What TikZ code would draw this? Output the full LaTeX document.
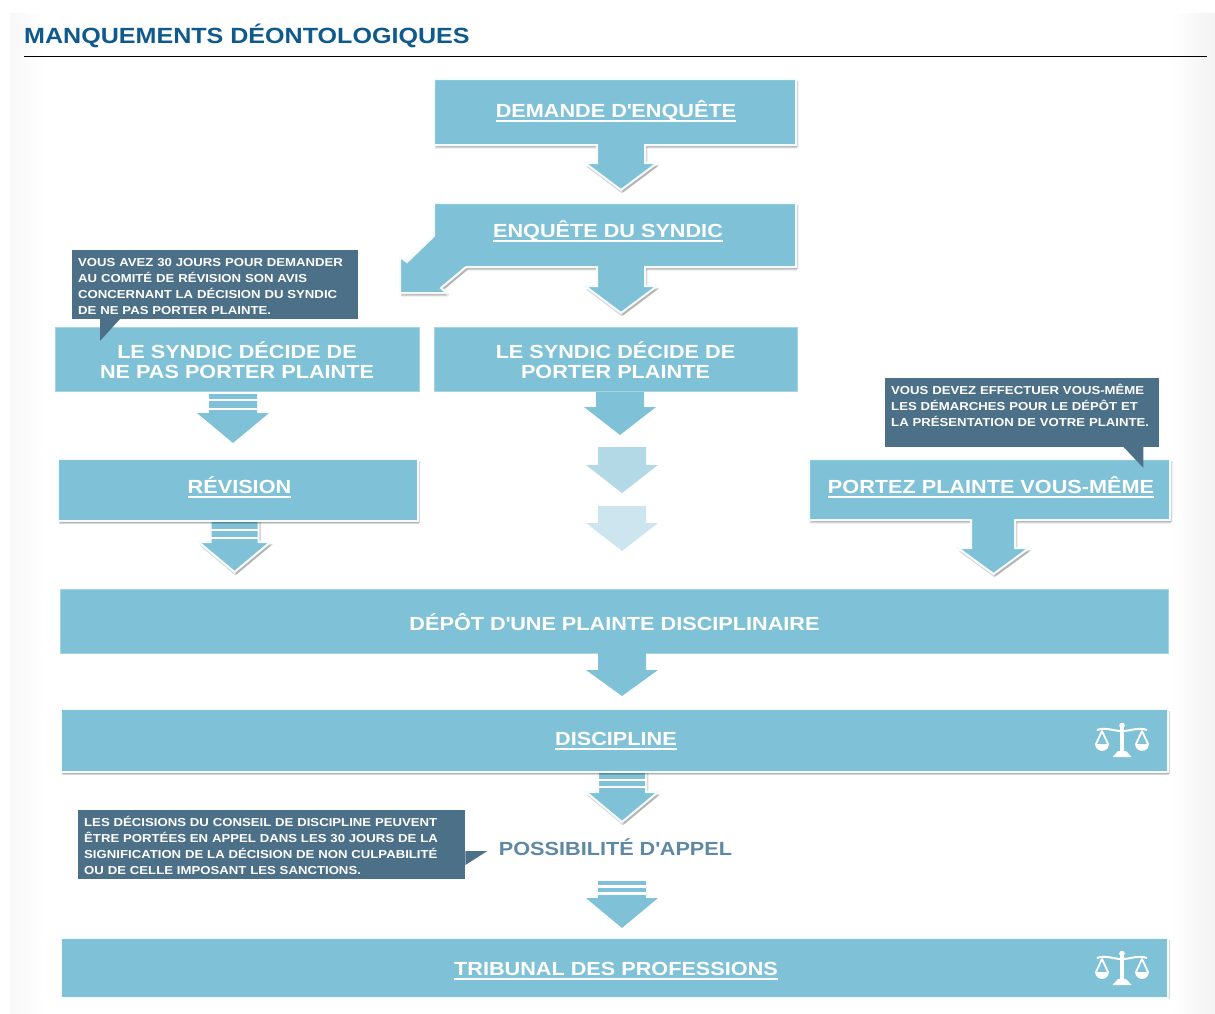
\documentclass[tikz,border=0pt]{standalone}
\usepackage{fontspec}
\setmainfont[FakeStretch=1.14]{Liberation Sans}
\usepackage{tikz}
\usetikzlibrary{shapes,shadows}

\definecolor{boxblue}{HTML}{7FC1D6}
\definecolor{fadeblue}{HTML}{B3D9E7}
\definecolor{paleblue}{HTML}{CCE5EE}
\definecolor{noteblue}{HTML}{4D7089}
\definecolor{appelblue}{HTML}{5F88A4}
\definecolor{titleblue}{HTML}{0F5A8C}

\newcommand{\linedtext}[1]{\setbox0=\hbox{#1}\rlap{\rule[-4.6bp]{\wd0}{1.8bp}}\box0}
\newcommand{\notelead}{\rule{0pt}{12.5bp}}
\newcommand{\downblock}[5]{\path [#1,shift={(#2bp,-#3bp)}] (-24bp,0bp) -- (-24bp,-#4bp) -- (-36bp,-#4bp) -- (0bp,-#5bp) -- (36bp,-#4bp) -- (24bp,-#4bp) -- (24bp,0bp) -- cycle;}

\tikzset{
  softshadow/.style={drop shadow={shadow xshift=1bp,shadow yshift=-3.4bp,opacity=.16,fill=black},drop shadow={shadow xshift=2.4bp,shadow yshift=-2bp,opacity=.16,fill=black}},
  plainbox/.style={fill=boxblue,draw=boxblue!70!white,line width=.6bp,inner sep=0,align=center,text=white,font=\bfseries\fontsize{19bp}{20bp}\selectfont},
  edgebox/.style={plainbox,draw=white!92!boxblue,line width=2bp,softshadow},
  panel/.style={fill=boxblue,draw=white!92!boxblue,line width=2bp,line join=miter,softshadow},
  boxlabel/.style={text=white,anchor=base,inner sep=0,font=\bfseries\fontsize{19bp}{20bp}\selectfont},
  flatblock/.style={fill=boxblue},
  stripe/.style={draw=white,line width=2.4bp},
  notebox/.style={fill=noteblue,anchor=north west,inner xsep=6bp,inner ysep=4bp,align=left,text=white,font=\bfseries\fontsize{11.55bp}{16bp}\selectfont},
  notetip/.style={fill=noteblue},
  scalesicon/.pic={
    \fill[white] (0bp,13.5bp) circle (2.8bp);
    \fill[white] (-2.2bp,13bp) rectangle (2.2bp,-13bp);
    \fill[white] (-4bp,-12bp) -- (4bp,-12bp) -- (9.5bp,-18bp) -- (-9.5bp,-18bp) -- cycle;
    \draw[white,line width=2bp] (-25bp,9bp) to[out=20,in=180] (0bp,8bp) to[out=0,in=160] (25bp,9bp);
    \draw[white,line width=1.8bp,line join=round] (-20bp,8bp) -- (-26bp,-5bp) arc (180:360:6bp) -- cycle;
    \fill[white] (-26bp,-5bp) arc (180:360:6bp) -- cycle;
    \draw[white,line width=1.8bp,line join=round] (20bp,8bp) -- (14bp,-5bp) arc (180:360:6bp) -- cycle;
    \fill[white] (14bp,-5bp) arc (180:360:6bp) -- cycle;
  }
}

\begin{document}
\begin{tikzpicture}
\useasboundingbox (0bp,0bp) rectangle (1215bp,-1014bp);

\shade[left color=black!3,right color=white] (10bp,-13bp) rectangle (45bp,-1014bp);
\shade[left color=white,right color=black!5] (1170bp,-13bp) rectangle (1215bp,-1014bp);

\node (TITLE) at (24bp,-35.7bp)[anchor=west,inner sep=0,text=titleblue,font=\bfseries\fontsize{22bp}{26bp}\selectfont] {MANQUEMENTS DÉONTOLOGIQUES};
\coordinate (RL) at (24bp,-56.5bp);
\coordinate (RR) at (1207bp,-56.5bp);
\draw [black,line width=1.2bp] (RL) -- (RR);

\path [panel] (434bp,-79bp) -- (796bp,-79bp) -- (796bp,-145bp) -- (645bp,-145bp) -- (645bp,-163bp) -- (657bp,-163bp) -- (621bp,-190bp) -- (585bp,-163bp) -- (597bp,-163bp) -- (597bp,-145bp) -- (434bp,-145bp) -- cycle;
\node (DE) at (616bp,-117.5bp)[boxlabel] {\linedtext{DEMANDE D\textquotesingle ENQUÊTE}};

\path [panel] (434bp,-203bp) -- (796bp,-203bp) -- (796bp,-267bp) -- (645bp,-267bp) -- (645bp,-286bp) -- (657bp,-286bp) -- (621bp,-313bp) -- (585bp,-286bp) -- (597bp,-286bp) -- (597bp,-267bp) -- (466bp,-267bp) -- (441bp,-288bp) -- (447bp,-293bp) -- (400bp,-293bp) -- (400bp,-257bp) -- (407bp,-262bp) -- (434bp,-236bp) -- cycle;
\node (ES) at (608bp,-237.5bp)[boxlabel] {\linedtext{ENQUÊTE DU SYNDIC}};

\node (NP) at (237bp,-359.5bp)[plainbox,minimum width=364bp,minimum height=64bp] {};
\node (NPT) at (237bp,-360bp)[plainbox,fill=none,draw=none] {LE SYNDIC DÉCIDE DE\\NE PAS PORTER PLAINTE};
\node (PP) at (615.5bp,-359.5bp)[plainbox,minimum width=363bp,minimum height=64bp] {};
\node (PPT) at (615.5bp,-360bp)[plainbox,fill=none,draw=none] {LE SYNDIC DÉCIDE DE\\PORTER PLAINTE};

\downblock{flatblock}{233}{394}{19}{49}
\draw [stripe] (209bp,-400bp) -- (257bp,-400bp);
\draw [stripe] (209bp,-409bp) -- (257bp,-409bp);
\downblock{flatblock}{620}{392}{15}{43}
\downblock{flatblock,fill=fadeblue}{622}{447}{18}{46}
\downblock{flatblock,fill=paleblue}{622}{506}{17}{45}

\downblock{panel}{234.5}{520}{22}{52}
\node (RV) at (238bp,-490bp)[edgebox,minimum width=360bp,minimum height=62bp] {};
\node (RVT) at (239.5bp,-493.5bp)[boxlabel] {\linedtext{RÉVISION}};
\draw [stripe] (211bp,-530bp) -- (258bp,-530bp);
\draw [stripe] (211bp,-538bp) -- (258bp,-538bp);

\path [panel] (809bp,-459bp) -- (1170bp,-459bp) -- (1170bp,-520bp) -- (1015bp,-520bp) -- (1015bp,-548bp) -- (1029bp,-548bp) -- (993.5bp,-574bp) -- (958bp,-548bp) -- (971bp,-548bp) -- (971bp,-520bp) -- (809bp,-520bp) -- cycle;
\node (PV) at (991bp,-493.5bp)[boxlabel] {\linedtext{PORTEZ PLAINTE VOUS-MÊME}};

\node (DP) at (614bp,-621bp)[plainbox,minimum width=1108bp,minimum height=64bp] {};
\node (DPT) at (614.5bp,-630.5bp)[boxlabel] {DÉPÔT D\textquotesingle UNE PLAINTE DISCIPLINAIRE};
\downblock{flatblock}{622}{653}{17}{43}

\downblock{panel}{622}{771}{21}{51}
\node (DI) at (614.5bp,-740.5bp)[edgebox,minimum width=1107bp,minimum height=63bp] {};
\node (DIT) at (616bp,-745.5bp)[boxlabel] {\linedtext{DISCIPLINE}};
\draw [stripe] (599bp,-780bp) -- (645bp,-780bp);
\draw [stripe] (599bp,-787bp) -- (645bp,-787bp);
\pic at (1122bp,-739bp) {scalesicon};

\node (AP) at (615.5bp,-855.5bp)[anchor=base,inner sep=0,text=appelblue,font=\bfseries\fontsize{19bp}{20bp}\selectfont] {POSSIBILITÉ D\textquotesingle APPEL};

\downblock{flatblock}{622}{881}{17}{47}
\draw [stripe] (598bp,-886.5bp) -- (646bp,-886.5bp);
\draw [stripe] (598bp,-893.5bp) -- (646bp,-893.5bp);

\node (TR) at (614.5bp,-968bp)[edgebox,minimum width=1107bp,minimum height=60bp] {};
\node (TRT) at (616bp,-975.5bp)[boxlabel] {\linedtext{TRIBUNAL DES PROFESSIONS}};
\pic at (1122bp,-967bp) {scalesicon};
\fill [white] (50bp,-998.5bp) rectangle (1175bp,-1008bp);

\node (N1) at (72bp,-250bp)[notebox,text width=274bp] {\notelead VOUS AVEZ 30 JOURS POUR DEMANDER\\AU COMITÉ DE RÉVISION SON AVIS\\CONCERNANT LA DÉCISION DU SYNDIC\\DE NE PAS PORTER PLAINTE.};
\path [notetip] ([xshift=28bp]N1.south west) -- ([xshift=28bp,yshift=-22bp]N1.south west) -- ([xshift=48bp]N1.south west) -- cycle;

\node (N2) at (885bp,-378bp)[notebox,text width=262bp] {\notelead VOUS DEVEZ EFFECTUER VOUS-MÊME\\LES DÉMARCHES POUR LE DÉPÔT ET\\LA PRÉSENTATION DE VOTRE PLAINTE.\\\mbox{}};
\path [notetip] ([xshift=-36bp]N2.south east) -- ([xshift=-16bp,yshift=-21bp]N2.south east) -- ([xshift=-16bp]N2.south east) -- cycle;

\node (N3) at (78bp,-810bp)[notebox,text width=375bp] {\notelead LES DÉCISIONS DU CONSEIL DE DISCIPLINE PEUVENT\\ÊTRE PORTÉES EN APPEL DANS LES 30 JOURS DE LA\\SIGNIFICATION DE LA DÉCISION DE NON CULPABILITÉ\\OU DE CELLE IMPOSANT LES SANCTIONS.};
\path [notetip] ([yshift=-41bp]N3.north east) -- ([xshift=22bp,yshift=-41bp]N3.north east) -- ([yshift=-55bp]N3.north east) -- cycle;

\end{tikzpicture}
\end{document}
